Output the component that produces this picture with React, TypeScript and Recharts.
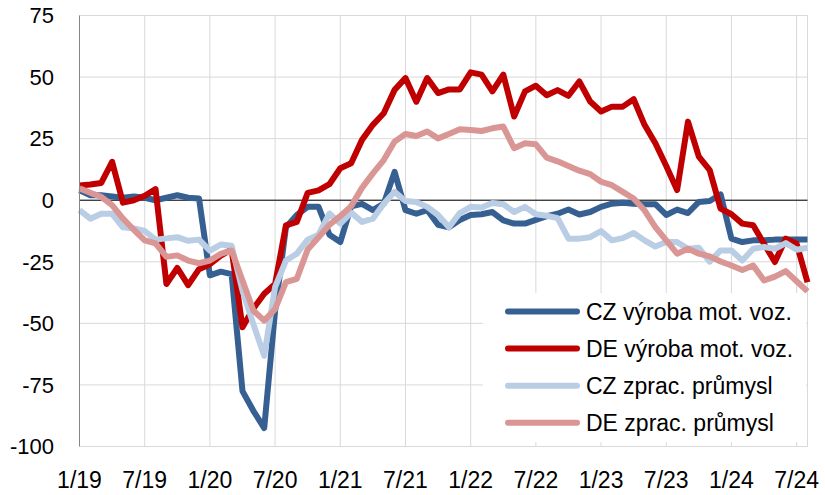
import React from 'react';
import { LineChart, Line, XAxis, YAxis, CartesianGrid, ReferenceLine, Legend } from 'recharts';

// Months 1/19 .. 8/24
const MONTHS = [
  '1/19', '2/19', '3/19', '4/19', '5/19', '6/19', '7/19', '8/19', '9/19', '10/19', '11/19', '12/19',
  '1/20', '2/20', '3/20', '4/20', '5/20', '6/20', '7/20', '8/20', '9/20', '10/20', '11/20', '12/20',
  '1/21', '2/21', '3/21', '4/21', '5/21', '6/21', '7/21', '8/21', '9/21', '10/21', '11/21', '12/21',
  '1/22', '2/22', '3/22', '4/22', '5/22', '6/22', '7/22', '8/22', '9/22', '10/22', '11/22', '12/22',
  '1/23', '2/23', '3/23', '4/23', '5/23', '6/23', '7/23', '8/23', '9/23', '10/23', '11/23', '12/23',
  '1/24', '2/24', '3/24', '4/24', '5/24', '6/24', '7/24', '8/24',
];

const CZ_VYROBA = [
  4, 2, 2, 1.5, 1, 1.5, 1, 0, 1, 2, 1, 0.7,
  -30.5, -29, -30, -77.5, -85.5, -92.5, -45, -11, -6, -2.7, -2.7, -14,
  -17, -2.5, -1.5, -4, -1.4, 11.5, -4, -5.5, -4, -10, -11, -8,
  -6, -5.7, -4.8, -8.2, -9.5, -9.5, -8, -6.5, -5.5, -3.8, -5.8, -4.8,
  -2.7, -1.4, -1, -1.4, -1.6, -1.6, -6, -3.8, -5.2, -0.7, -0.3, 2.4,
  -15.6, -17, -16.3, -16.3, -16, -16, -16, -16,
];

const DE_VYROBA = [
  6, 6.4, 7, 15.6, -1, 0, 1.8, 4.5, -34, -27.5, -34.5, -28,
  -26, -22.5, -20, -51.6, -44, -38, -34, -10.2, -8.8, 3, 4, 6.5,
  13, 15, 24.5, 30.6, 35.3, 44.8, 49.6, 40, 49.6, 43.5, 45, 45,
  51.9, 51, 44.2, 51, 34, 44.2, 46.5, 42.6, 44.7, 42.4, 48.2, 40.1,
  36, 38, 38, 41, 30.6, 23.1, 13.9, 4.1, 31.9, 17.7, 12.2, -3.4,
  -5.7, -9.5, -10.2, -17.7, -25.1, -15.6, -17.7, -33.3,
];

const CZ_ZPRAC = [
  -4, -7.5, -5.5, -5.5, -11, -11.5, -12.5, -16, -15.5, -15, -16.5, -16,
  -20.5, -18, -18.5, -36.7, -50.3, -63.2, -35.3, -24.5, -21.7, -16, -14, -5.4,
  -9.5, -5, -8.8, -7.5, -1.4, 3.4, -0.3, -0.7, -2.7, -6, -11, -5.2,
  -2.7, -3, -1.1, -1.6, -4.8, -2.7, -5.7, -6.3, -7.3, -15.6, -15.6, -15,
  -12.5, -16.3, -15.4, -13.3, -16.3, -18.8, -17, -17, -19.7, -19.3, -24.9, -20.4,
  -20.4, -24.5, -19.7, -19, -19.7, -17.4, -20.1, -19.3,
];

const DE_ZPRAC = [
  4.8, 3, 1.4, -2, -7.5, -12, -16.3, -17.5, -23, -22.4, -24.5, -25.6,
  -24.5, -21.8, -20.4, -32.6, -44.8, -48.9, -44.2, -33.3, -31.9, -20, -15, -10,
  -6.5, -2.4, 5, 10.9, 16.3, 23.8, 26.9, 26.1, 27.9, 25.1, 26.9, 28.8,
  28.5, 28.1, 29.2, 29.9, 21.1, 23.1, 22.7, 17.3, 15.8, 13.9, 12, 10.6,
  7.5, 6.1, 3.4, 0.7, -4.1, -10.9, -16.3, -21.7, -19.7, -21.7, -22.8, -24.9,
  -26.5, -28.3, -26.5, -32.6, -31, -28.8, -32.9, -37,
];

const Y_TICKS = [-100, -75, -50, -25, 0, 25, 50, 75];

const SERIES = [
  { key: 'czVyroba', name: 'CZ výroba mot. voz.', color: '#376092' },
  { key: 'deVyroba', name: 'DE výroba mot. voz.', color: '#C00000' },
  { key: 'czZprac', name: 'CZ zprac. průmysl', color: '#B9CDE5' },
  { key: 'deZprac', name: 'DE zprac. průmysl', color: '#D99694' },
];

const FONT = '"Liberation Sans", Arial, sans-serif';

const data = MONTHS.map((month, i) => ({
  month,
  czVyroba: CZ_VYROBA[i],
  deVyroba: DE_VYROBA[i],
  czZprac: CZ_ZPRAC[i],
  deZprac: DE_ZPRAC[i],
}));

// Legend box drawn over the lower right of the plot, like the Excel original
const LegendBox = () => (
  <svg width={323} height={149} style={{ display: 'block', background: '#fff' }}>
    {SERIES.map((s, i) => {
      const cy = 18.5 + i * 37.1;
      return (
        <g key={s.key}>
          <line x1={25} x2={94} y1={cy} y2={cy} stroke={s.color} strokeWidth={6} strokeLinecap="round" />
          <text x={103} y={cy + 8.3} fontSize={23} fontFamily={FONT} fill="#000">{s.name}</text>
        </g>
      );
    })}
  </svg>
);

export default function App() {
  return (
    <div style={{ position: 'absolute', left: 0, top: 0, width: 825, height: 495, background: '#fff', fontFamily: FONT }}>
      <LineChart width={825} height={495} data={data} margin={{ top: 15.5, right: 17.5, bottom: 0, left: 0 }}>
        <CartesianGrid stroke="#d9d9d9" strokeWidth={1} />
        <XAxis
          dataKey="month"
          interval={5}
          height={48.5}
          axisLine={false}
          tickLine={false}
          tickSize={0}
          tickMargin={25}
          tick={{ fontSize: 23, fill: '#000', fontFamily: FONT }}
        />
        <YAxis
          type="number"
          domain={[-100, 75]}
          ticks={Y_TICKS}
          width={79.5}
          axisLine={{ stroke: '#868686', strokeWidth: 1 }}
          tickLine={false}
          tickSize={0}
          tickMargin={25.5}
          tick={{ fontSize: 22, fill: '#000', fontFamily: FONT }}
        />
        <ReferenceLine x={MONTHS[MONTHS.length - 1]} stroke="#d9d9d9" strokeWidth={1} />
        <ReferenceLine y={0} stroke="#000" strokeWidth={1} />
        {SERIES.map((s) => (
          <Line
            key={s.key}
            type="linear"
            dataKey={s.key}
            name={s.name}
            stroke={s.color}
            strokeWidth={6}
            strokeLinejoin="round"
            dot={false}
            activeDot={false}
            isAnimationActive={false}
          />
        ))}
        <Legend
          layout="vertical"
          align="center"
          verticalAlign="middle"
          content={() => <LegendBox />}
          wrapperStyle={{ left: 483, top: 292.5, width: 323, height: 149 }}
        />
      </LineChart>
    </div>
  );
}
